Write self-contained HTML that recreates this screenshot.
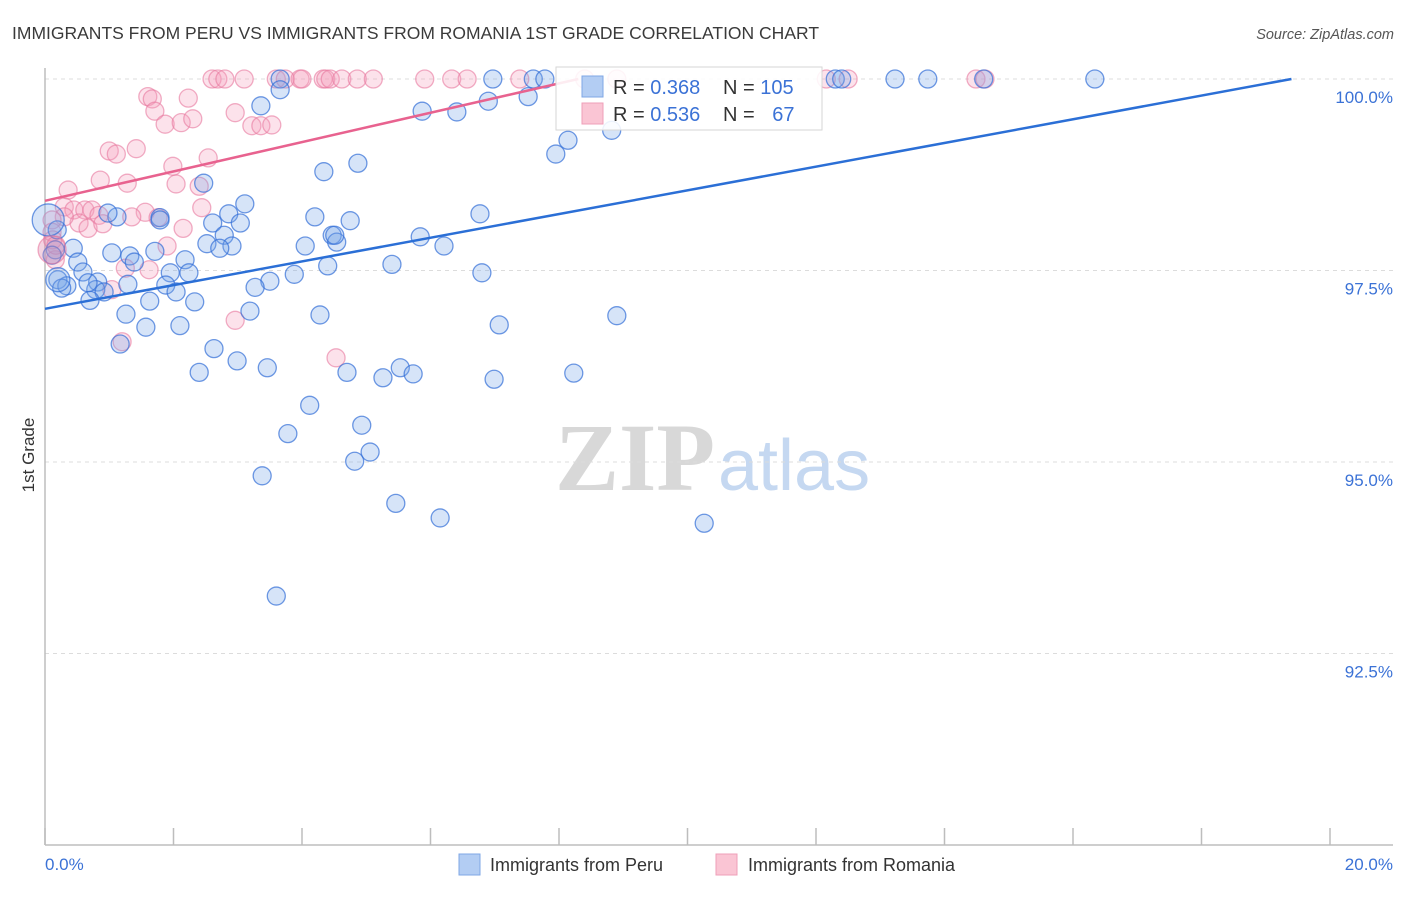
<!DOCTYPE html>
<html><head><meta charset="utf-8"><style>
body{margin:0;background:#fff;font-family:"Liberation Sans",sans-serif;}
svg text{font-family:"Liberation Sans",sans-serif;}
</style></head><body>
<svg id="chart" width="1406" height="892" viewBox="0 0 1406 892" xmlns="http://www.w3.org/2000/svg">
<text x="12" y="39" font-size="17.5" fill="#3a3a3a">IMMIGRANTS FROM PERU VS IMMIGRANTS FROM ROMANIA 1ST GRADE CORRELATION CHART</text>
<text x="1394" y="39" font-size="14.5" fill="#555" font-style="italic" text-anchor="end">Source: ZipAtlas.com</text>
<g>
<text x="555" y="490" font-size="96" fill="#d8d8d8" font-family="Liberation Serif" font-weight="bold" style="font-family:'Liberation Serif',serif">ZIP</text>
<text x="718" y="490" font-size="72" fill="#c5d8f1">atlas</text>
</g>
<g id="grid"></g>
<g id="axes"></g>
<g id="pts"></g>
<g id="lines"></g>
<g>
<rect x="556" y="67" width="266" height="63" fill="rgba(255,255,255,0.88)" stroke="#d6d6d6"/>
<rect x="582" y="76" width="21" height="21" fill="#b3cdf3" stroke="#7fa7e6"/>
<rect x="582" y="103" width="21" height="21" fill="#fac5d4" stroke="#ef9fb8"/>
<text x="613" y="94" font-size="20" fill="#333">R = <tspan fill="#3b72d6">0.368</tspan></text>
<text x="723" y="94" font-size="20" fill="#333">N = <tspan fill="#3b72d6">105</tspan></text>
<text x="613" y="121" font-size="20" fill="#333">R = <tspan fill="#3b72d6">0.536</tspan></text>
<text x="723" y="121" font-size="20" fill="#333">N = <tspan fill="#3b72d6" dx="12">67</tspan></text>
</g>
<text transform="translate(34,455) rotate(-90)" font-size="17" fill="#333" text-anchor="middle">1st Grade</text>
<g>
<rect x="459" y="854" width="21" height="21" fill="#b3cdf3" stroke="#7fa7e6"/>
<text x="490" y="871" font-size="18" fill="#333">Immigrants from Peru</text>
<rect x="716" y="854" width="21" height="21" fill="#fac5d4" stroke="#ef9fb8"/>
<text x="748" y="871" font-size="18" fill="#333">Immigrants from Romania</text>
</g>
</svg>
<script>
const blueX=[3.66,6.97,7.60,7.78,12.30,12.40,13.23,13.74,14.61,16.34,3.66,3.36,5.87,6.41,6.90,7.52,8.14,8.82,7.95,4.87,4.34,2.47,3.11,2.86,2.61,3.04,1.12,0.98,1.79,4.20,4.75,6.77,2.79,4.47,4.54,5.84,4.05,6.21,2.52,2.91,2.72,1.71,0.44,1.04,1.32,2.18,1.39,0.51,0.59,0.20,0.34,0.82,0.79,0.67,0.92,0.70,1.95,2.24,1.88,2.04,1.63,2.33,1.29,3.50,3.27,3.88,4.40,5.40,6.80,1.26,3.19,4.28,1.57,2.10,7.07,8.90,2.63,2.99,2.40,3.46,4.70,5.26,5.53,5.73,6.99,8.23,4.12,3.78,4.93,4.82,5.06,3.38,5.46,6.15,10.26,3.60,0.19,0.16,0.11,0.26,1.17,1.79,4.51];
const blueY=[100,100,100,100,100,100,100,100,100,100,99.86,99.65,99.58,99.57,99.71,99.77,99.20,99.33,99.02,98.90,98.79,98.64,98.37,98.24,98.12,98.12,98.20,98.25,98.19,98.20,98.15,98.24,97.96,97.96,97.87,97.94,97.82,97.82,97.85,97.82,97.79,97.75,97.79,97.73,97.69,97.64,97.61,97.61,97.48,97.38,97.30,97.35,97.25,97.34,97.22,97.11,97.47,97.47,97.31,97.22,97.10,97.09,97.32,97.36,97.28,97.45,97.56,97.58,97.47,96.93,96.97,96.92,96.76,96.78,96.79,96.91,96.48,96.32,96.17,96.23,96.17,96.10,96.23,96.15,96.08,96.16,95.74,95.37,95.48,95.01,95.13,94.82,94.46,94.27,94.20,93.25,98.03,97.77,97.70,97.27,96.54,98.16,97.96];
const blueBigX=[0.05,0.20];
const blueBigY=[98.16,97.38];
const blueBigR=[16,12];
const pinkX=[2.60,2.69,2.80,3.10,3.60,3.74,3.97,4.00,4.33,4.37,4.44,4.62,4.86,5.11,5.91,6.33,6.57,7.39,8.40,8.90,12.16,12.50,14.49,14.63,1.60,1.67,2.23,1.71,1.87,2.12,2.30,2.96,3.22,3.36,3.53,1.00,1.11,1.42,2.54,1.99,0.86,1.28,0.36,2.04,2.40,2.44,2.15,0.30,0.45,0.62,0.73,0.84,0.53,0.67,0.90,1.56,1.35,1.76,0.30,0.11,0.11,1.25,1.62,1.90,1.04,2.96,4.53,1.20,0.12,0.16,0.17];
const pinkY=[100,100,100,100,100,100,100,100,100,100,100,100,100,100,100,100,100,100,100,100,100,100,100,100,99.77,99.74,99.75,99.58,99.41,99.43,99.48,99.56,99.39,99.39,99.40,99.06,99.02,99.09,98.97,98.86,98.68,98.64,98.55,98.63,98.60,98.32,98.05,98.33,98.29,98.29,98.29,98.22,98.12,98.05,98.11,98.26,98.20,98.19,98.20,98.16,98.00,97.53,97.51,97.82,97.25,96.85,96.36,96.57,97.90,97.64,97.83];
const pinkBigX=[0.11];
const pinkBigY=[97.77];
const pinkBigR=[14];
const blueLineX=[0,19.4];
const blueLineY=[97.0,100];
const pinkLineX=[0,8.3];
const pinkLineY=[98.41,100];
const yTicks=[100,97.5,95,92.5];
const yTickLabels=["100.0%","97.5%","95.0%","92.5%"];
const xTickVals=[0,2,4,6,8,10,12,14,16,18,20];
const xEndLabels=["0.0%","20.0%"];

const NS="http://www.w3.org/2000/svg";
const X0=45,X1=1330,Y0=79,YPER=76.6;
function sx(v){return X0+(v/20)*(X1-X0);}
function sy(v){return Y0+(100-v)*YPER;}
function mk(tag,attrs,parent){const e=document.createElementNS(NS,tag);for(const k in attrs)e.setAttribute(k,attrs[k]);parent.appendChild(e);return e;}
const grid=document.getElementById('grid'),axes=document.getElementById('axes'),pts=document.getElementById('pts'),lines=document.getElementById('lines');
yTicks.forEach((t,i)=>{
  const l=mk('line',{x1:X0,x2:1393,y1:sy(t),y2:sy(t),stroke:'#dcdcdc','stroke-dasharray':'4,4'},grid);
  
  
  const tx=mk('text',{x:1393,y:sy(t)+24,'font-size':17,fill:'#3b72d6','text-anchor':'end'},axes);
  tx.textContent=yTickLabels[i];
  
  
});
const ya=mk('line',{x1:X0,x2:X0,y1:68,y2:845,stroke:'#bdbdbd','stroke-width':1.5},axes);


const xa=mk('line',{x1:X0,x2:1393,y1:845,y2:845,stroke:'#bdbdbd','stroke-width':1.5},axes);


xTickVals.forEach(v=>{
  const t=mk('line',{x1:sx(v),x2:sx(v),y1:828,y2:845,stroke:'#bdbdbd','stroke-width':1.5},axes);
  
  
});
const xl0=mk('text',{x:45,y:870,'font-size':17,fill:'#3b72d6'},axes);
xl0.textContent=xEndLabels[0];


const xl1=mk('text',{x:1393,y:870,'font-size':17,fill:'#3b72d6','text-anchor':'end'},axes);
xl1.textContent=xEndLabels[1];



function drawPts(xs,ys,rs,fill,stroke,name){
  xs.forEach((x,i)=>{
    const c=mk('circle',{cx:sx(x),cy:sy(ys[i]),r:rs?rs[i]:9,fill:fill,stroke:stroke,'stroke-width':1.3},pts);
    
    
  });
}
drawPts(pinkX,pinkY,null,'rgba(246,160,188,0.3)','rgba(232,120,158,0.6)','romania-point');
drawPts(blueX,blueY,null,'rgba(120,165,232,0.3)','rgba(50,110,215,0.7)','peru-point');
drawPts(blueBigX,blueBigY,blueBigR,'rgba(120,165,232,0.3)','rgba(50,110,215,0.7)','peru-point');
drawPts(pinkBigX,pinkBigY,pinkBigR,'rgba(220,130,170,0.35)','rgba(232,120,158,0.6)','romania-point');

const bl=mk('line',{x1:sx(blueLineX[0]),y1:sy(blueLineY[0]),x2:sx(blueLineX[1]),y2:sy(blueLineY[1]),stroke:'#2b6fd6','stroke-width':2.5},lines);


const pl=mk('line',{x1:sx(pinkLineX[0]),y1:sy(pinkLineY[0]),x2:sx(pinkLineX[1]),y2:sy(pinkLineY[1]),stroke:'#e8628f','stroke-width':2.5},lines);


</script>
</body></html>
